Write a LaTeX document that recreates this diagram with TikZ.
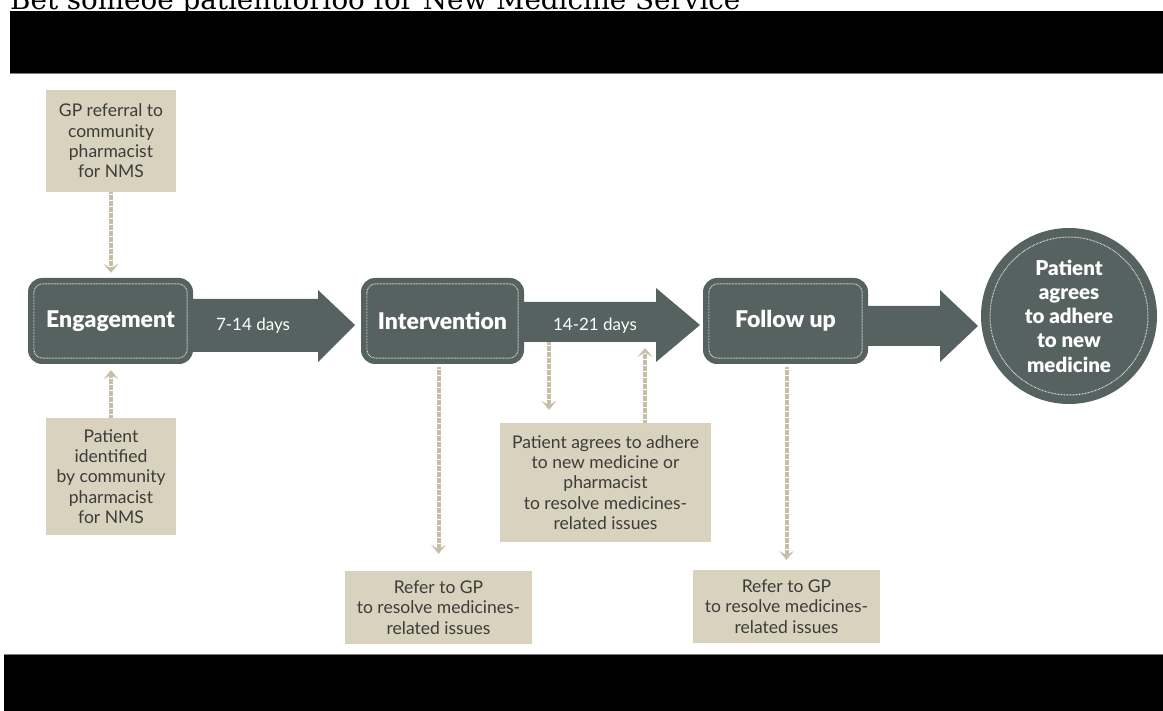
\documentclass[tikz,border=0pt]{standalone}
\usepackage{fontspec}
\setmainfont{Lato}
\newfontfamily\heavy{Lato Black}
\newfontfamily\titlefont{DejaVu Serif}
\usetikzlibrary{arrows.meta,calc}
\definecolor{slate}{HTML}{56625F}
\definecolor{tan}{HTML}{D8D2BF}
\definecolor{conncol}{HTML}{C6BEA6}
\definecolor{tantext}{HTML}{3C3C38}
\begin{document}
\begin{tikzpicture}[x=1pt,y=-1pt,
  stage/.style={fill=slate, rounded corners=14pt, minimum width=165pt, minimum height=86pt,
    text=white, font=\fontsize{23}{26}\selectfont\heavy, inner sep=0pt},
  note/.style={fill=tan, text=tantext, align=center, font=\fontsize{17.5}{20.3}\selectfont, inner sep=0pt},
  conn/.style={draw=conncol, line width=4pt, dash pattern=on 0.7pt off 0.5pt,
    -{Stealth[length=9pt,width=15pt,inset=4.5pt]}, shorten >=6pt},
  innerline/.style={draw=white!85!slate, line width=1pt, dash pattern=on 0.7pt off 0.8pt},
  bigarrow/.style={fill=slate},
  band/.style={fill=black},
  daylabel/.style={text=white, font=\fontsize{17}{20}\selectfont, inner sep=0pt}
]
\useasboundingbox (0,0) rectangle (1163,711);
\clip (0,0) rectangle (1163,711);

% cropped title and black bands
\node[anchor=base west, inner sep=0pt] (title) at (10,9.5)
  {\resizebox{730pt}{!}{\titlefont Bet someoe patientforloo for New Medicine Service}};
\fill[band] (10,11) rectangle (1163,73);
\draw[gray, line width=1pt] (10,73.5) -- (1163,73.5);
\fill[band] (4,655) rectangle (1163,711);
\draw[gray, line width=1pt] (4,654.5) -- (1163,654.5);

% stages
\node[stage] (eng) at (110.5,321) {Engagement};
\node[stage, minimum width=163pt] (int) at (442.5,321) {Intervention};
\node[stage] (fol) at (785.5,321) {Follow up};
\node[circle, fill=slate, minimum size=176pt, text=white, align=center, inner sep=0pt,
  font=\fontsize{20.5}{24.2}\selectfont\heavy] (goal) at (1069,316)
  {Patient\\agrees\\to adhere\\to new\\medicine};

\foreach \n in {eng,int,fol}
  \draw[innerline, rounded corners=9pt] ([shift={(6pt,-6pt)}]\n.north west) rectangle ([shift={(-6pt,6pt)}]\n.south east);
\draw[innerline] (goal.center) circle (79pt);

% big arrows
\fill[bigarrow] (eng.east |- 0,299) -- (318,299) -- (318,290) -- (355,325) -- (318,362) -- (318,352) -- (eng.east |- 0,352) -- cycle;
\fill[bigarrow] (int.east |- 0,302) -- (656,302) -- (656,288) -- (700,325) -- (656,362) -- (656,342) -- (int.east |- 0,342) -- cycle;
\fill[bigarrow] (fol.east |- 0,306) -- (940,306) -- (940,290) -- (978,326) -- (940,362) -- (940,346) -- (fol.east |- 0,346) -- cycle;
\node[daylabel] (d1) at (253,326) {7-14 days};
\node[daylabel] (d2) at (595,326) {14-21 days};
\coordinate (a2down) at (549,342);
\coordinate (a2up) at (645,342);

% notes
\node[note, minimum width=130pt, minimum height=102pt] (gp) at (111,141)
  {GP referral to\\community\\pharmacist\\for NMS};
\node[note, minimum width=130pt, minimum height=117pt] (pid) at (111,476.5)
  {Patient\\identified\\by community\\pharmacist\\for NMS};
\node[note, minimum width=211pt, minimum height=119pt] (mid) at (605.5,482.5)
  {Patient agrees to adhere\\to new medicine or\\pharmacist\\to resolve medicines-\\related issues};
\node[note, minimum width=187pt, minimum height=73pt] (ref1) at (438.5,607.5)
  {Refer to GP\\to resolve medicines-\\related issues};
\node[note, minimum width=187pt, minimum height=73pt] (ref2) at (786.5,606.5)
  {Refer to GP\\to resolve medicines-\\related issues};

% connectors
\draw[conn, shorten >=5pt] (gp.south) -- (gp.south |- eng.north);
\draw[conn] (pid.north) -- (pid.north |- eng.south);
\draw[conn, shorten <=3pt, shorten >=17pt] (ref1.north |- int.south) -- (ref1.north);
\draw[conn, shorten <=3pt, shorten >=10pt] (ref2.north |- fol.south) -- (ref2.north);
\draw[conn, shorten >=13pt] (a2down) -- (a2down |- mid.north);
\draw[conn] (a2up |- mid.north) -- (a2up);
\end{tikzpicture}
\end{document}
